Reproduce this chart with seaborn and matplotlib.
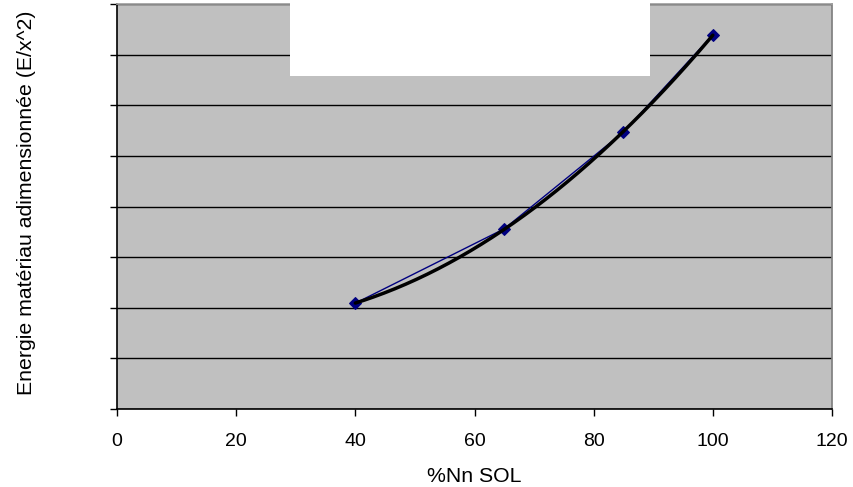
import numpy as np
import pandas as pd
import matplotlib
matplotlib.use("Agg")
import matplotlib.pyplot as plt
import seaborn as sns
from matplotlib.patches import Rectangle

x_vals = [40, 65, 85, 100]
y_vals = [2.09, 3.56, 5.47, 7.39]
x_ticks = [0, 20, 40, 60, 80, 100, 120]
x_label = "%Nn SOL"
y_label = "Energie matériau adimensionnée (E/x^2)"

sns.set_theme(style="white")
plt.rcParams['font.family'] = ['Liberation Sans', 'DejaVu Sans']
plt.rcParams['text.color'] = 'black'
plt.rcParams['axes.labelcolor'] = 'black'
plt.rcParams['xtick.color'] = 'black'
plt.rcParams['ytick.color'] = 'black'

df = pd.DataFrame({"x": x_vals, "y": y_vals})

fig = plt.figure(figsize=(8.54, 4.87), dpi=100)
ax = fig.add_axes([117/854, 1 - 409/487, (832 - 117)/854, (409 - 4)/487])
ax.set_facecolor("#c0c0c0")

# polynomial trendline (order 2)
coef = np.polyfit(df["x"], df["y"], 2)
xs = np.linspace(min(x_vals), max(x_vals), 200)
trend = pd.DataFrame({"x": xs, "y": np.polyval(coef, xs)})

sns.lineplot(data=df, x="x", y="y", ax=ax, color="#000080", linewidth=1.0,
             marker="D", markersize=6, markeredgecolor="#000080", markerfacecolor="#000080", zorder=3)
sns.lineplot(data=trend, x="x", y="y", ax=ax, color="black", linewidth=2.5, zorder=4)

ax.set_xlim(0, 120)
ax.set_ylim(0, 8)
ax.set_xticks(x_ticks)
ax.set_xticklabels([str(t) for t in x_ticks], fontsize=14, color="black")
ax.set_yticks(np.arange(0, 9, 1))
ax.set_yticklabels([])
ax.yaxis.grid(True, color="black", linewidth=1.0)
ax.set_axisbelow(True)
ax.tick_params(axis="both", direction="out", length=5, width=1, colors="black",
               left=True, bottom=True, pad=12)
ax.set_xlabel(x_label, fontsize=15.3, color="black", va="center")
ax.xaxis.set_label_coords(0.5, (409 - 477) / 405)
ax.set_ylabel(y_label, fontsize=15.3, color="black", va="center")
ax.yaxis.set_label_coords((27 - 117) / 715, 0.51)

for side in ["left", "bottom"]:
    ax.spines[side].set_color("black")
    ax.spines[side].set_linewidth(1.2)
ax.spines["right"].set_color("#808080")
ax.spines["top"].set_color("#a0a0a0")

# white box covering the top (hidden title area)
fig.patches.append(Rectangle((290/854, 1 - 76/487), (650 - 290)/854, 76/487,
                             transform=fig.transFigure, facecolor="white",
                             edgecolor="none", zorder=10))

fig.savefig("out.png", dpi=100)
